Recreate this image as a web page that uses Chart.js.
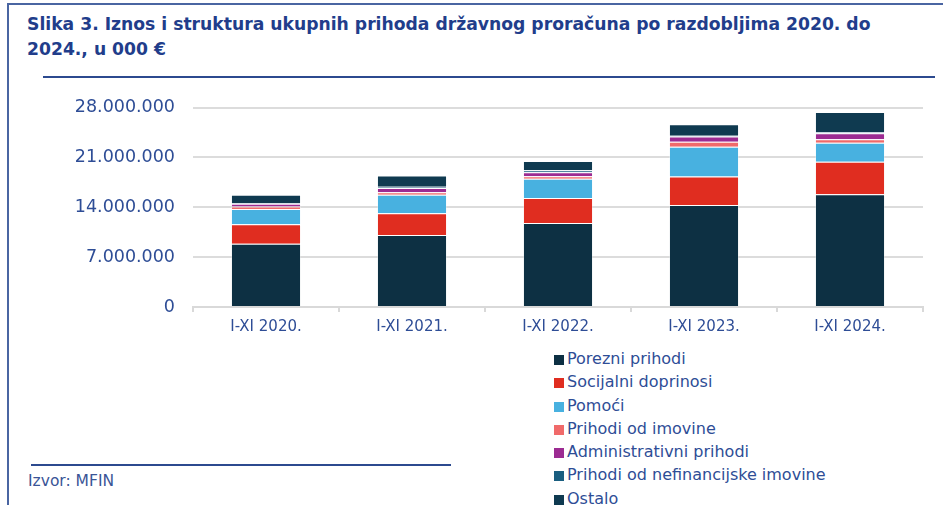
<!DOCTYPE html>
<html>
<head>
<meta charset="utf-8">
<script src="https://cdn.jsdelivr.net/npm/chart.js@4.4.1/dist/chart.umd.min.js"></script>
<style>
  body { margin: 0; width: 943px; height: 505px; background: #fff; overflow: hidden; position: relative; }
  #frame { position: absolute; left: 7px; top: 3px; right: 0; bottom: 0; border-top: 2px solid #4a65a2; border-left: 2px solid #4a65a2; }
  #title { position: absolute; left: 27px; top: 12px; font: bold 17.2px "DejaVu Sans", sans-serif; color: #213d8b; line-height: 25px; white-space: nowrap; }
  #titleLine { position: absolute; left: 43px; top: 76px; width: 892px; height: 2px; background: #2c4a8f; }
  #srcLine { position: absolute; left: 31px; top: 464px; width: 420px; height: 1.5px; background: #2c4a8f; }
  #source { position: absolute; left: 28px; top: 472px; font: 15.5px "DejaVu Sans", sans-serif; color: #3a5597; }
  #chart { position: absolute; left: 0; top: 79px; }
  #legend { position: absolute; left: 554px; top: 347px; font: 16px "DejaVu Sans", sans-serif; color: #2e4d96; }
  #legend div { height: 23.3px; line-height: 23.3px; white-space: nowrap; }
  #legend span { display: inline-block; width: 10px; height: 10px; margin-right: 3px; vertical-align: -1px; }
</style>
</head>
<body>
<div id="frame"></div>
<div id="title">Slika 3. Iznos i struktura ukupnih prihoda državnog proračuna po razdobljima 2020. do<br>2024., u 000 €</div>
<div id="titleLine"></div>
<canvas id="chart" width="943" height="266"></canvas>
<div id="legend"></div>
<div id="srcLine"></div>
<div id="source">Izvor: MFIN</div>
<script>
// kategorije (razdoblja)
var categories = ["I-XI 2020.", "I-XI 2021.", "I-XI 2022.", "I-XI 2023.", "I-XI 2024."];
// vrijednosti u 000 €
var porezni = [8860000, 10120000, 11800000, 14320000, 15820000];
var socijalni = [2760000, 3030000, 3500000, 4010000, 4570000];
var pomoci = [2140000, 2610000, 2710000, 4150000, 2660000];
var imovina = [340000, 330000, 330000, 700000, 500000];
var administrativni = [380000, 600000, 560000, 740000, 840000];
var nefinancijska = [70000, 190000, 280000, 100000, 140000];
var ostalo = [1220000, 1590000, 1300000, 1630000, 2850000];
var yTicks = [0, 7000000, 14000000, 21000000, 28000000];

function fmt(v) {
  return String(v).replace(/\B(?=(\d{3})+(?!\d))/g, ".");
}

function ds(label, data, color) {
  return {
    label: label,
    data: data,
    backgroundColor: color,
    borderColor: "rgba(255,255,255,0.35)",
    borderWidth: 1,
    categoryPercentage: 1,
    barPercentage: 0.48
  };
}

var data = {
  labels: categories,
  datasets: [
    ds("Porezni prihodi", porezni, "#0d3043"),
    ds("Socijalni doprinosi", socijalni, "#e02d20"),
    ds("Pomoći", pomoci, "#48b1e0"),
    ds("Prihodi od imovine", imovina, "#f06a6a"),
    ds("Administrativni prihodi", administrativni, "#9c2b92"),
    ds("Prihodi od nefinancijske imovine", nefinancijska, "#1a5e80"),
    ds("Ostalo", ostalo, "#0f3a50")
  ]
};

var ctx = document.getElementById("chart").getContext("2d");
var chart = new Chart(ctx, {
  type: "bar",
  data: data,
  options: {
    responsive: false,
    animation: false,
    layout: { padding: { left: 0, right: 20, top: 5, bottom: 3 } },
    plugins: { legend: { display: false }, tooltip: { enabled: false } },
    scales: {
      x: {
        stacked: true,
        grid: { drawOnChartArea: false, color: "#d9d9d9", lineWidth: 2, tickLength: 5, offset: true },
        border: { color: "#d9d9d9", width: 2 },
        ticks: { color: "#2e4d96", font: { family: "DejaVu Sans", size: 15 }, padding: 6 }
      },
      y: {
        stacked: true,
        min: 0,
        max: 28000000,
        afterFit: function(scale) { scale.width = 193; },
        afterBuildTicks: function(scale) {
          scale.ticks = yTicks.map(function(v) { return { value: v }; });
        },
        grid: { color: "#dcdcdc", lineWidth: 2, drawTicks: false },
        border: { display: false },
        ticks: {
          color: "#2e4d96",
          font: { family: "DejaVu Sans", size: 17.5 },
          padding: 18,
          callback: function(v) { return fmt(v); }
        }
      }
    }
  }
});

// legenda (okomita, ispod grafa)
var legend = document.getElementById("legend");
chart.data.datasets.forEach(function(d) {
  var row = document.createElement("div");
  var box = document.createElement("span");
  box.style.background = d.backgroundColor;
  row.appendChild(box);
  row.appendChild(document.createTextNode(d.label));
  legend.appendChild(row);
});
</script>
</body>
</html>
